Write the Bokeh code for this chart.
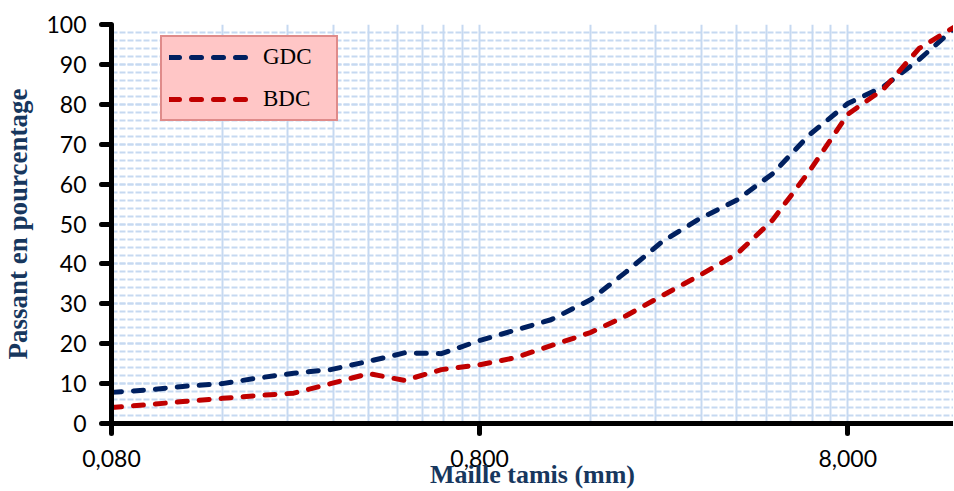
from bokeh.plotting import figure
from bokeh.models import (Range1d, FixedTicker, CustomJSTickFormatter, Legend, LegendItem)
from bokeh.embed import file_html
from bokeh.resources import INLINE

# ---- data ----
sieve_mm = [0.08, 0.1, 0.125, 0.16, 0.2, 0.25, 0.315, 0.4, 0.5, 0.63, 0.8, 1.0,
            1.25, 1.6, 2.0, 2.5, 3.15, 4.0, 5.0, 6.3, 8.0, 10.0, 12.5, 16.0]
gdc = [7.8, 8.4, 9.3, 10.0, 11.4, 12.6, 13.5, 15.6, 17.7, 17.5, 20.8, 23.4,
       26.0, 31.0, 38.0, 45.5, 51.2, 56.0, 62.6, 72.4, 80.2, 84.4, 91.2, 100.0]
bdc = [4.0, 4.7, 5.5, 6.3, 7.0, 7.6, 10.0, 12.5, 10.8, 13.5, 14.7, 16.5,
       19.5, 22.8, 27.0, 32.0, 37.0, 42.5, 51.0, 63.3, 77.5, 83.8, 94.0, 100.0]
x_major = [0.08, 0.8, 8.0]
y_major = [0, 10, 20, 30, 40, 50, 60, 70, 80, 90, 100]
series_names = ["GDC", "BDC"]
x_title = "Maille tamis (mm)"
y_title = "Passant en pourcentage"

NAVY = "#002060"
RED = "#C00000"
TITLE_COL = "#17375E"
GRID_COL = "#C6D9F1"

p = figure(width=953, height=491, x_axis_type="log",
           x_range=Range1d(0.08, 15.5), y_range=Range1d(0, 100),
           output_backend="svg", toolbar_location=None,
           min_border_left=109, min_border_right=0, min_border_top=24,
           min_border_bottom=67)
p.outline_line_color = None
p.background_fill_color = "white"

# x axis ticks
x_minor = [m * k for m in x_major for k in range(2, 10)]
p.xaxis.ticker = FixedTicker(ticks=x_major, minor_ticks=x_minor)
p.xaxis.formatter = CustomJSTickFormatter(code="return tick.toFixed(3).replace('.', ',');")
y_minor = [v for v in range(0, 101, 2)]
p.yaxis.ticker = FixedTicker(ticks=y_major, minor_ticks=y_minor)

for ax in (p.xaxis[0], p.yaxis[0]):
    ax.axis_line_color = "black"
    ax.axis_line_width = 5
    ax.major_tick_line_color = "black"
    ax.major_tick_line_width = 5
    ax.major_tick_line_cap = "round"
    ax.major_tick_out = 10
    ax.major_tick_in = 0
    ax.minor_tick_line_color = None
    ax.major_label_text_font = "Lato"
    ax.major_label_text_font_size = "23px"
    ax.major_label_text_color = "black"
    ax.axis_label_text_font = "Liberation Serif"
    ax.axis_label_text_font_style = "bold"
    ax.axis_label_text_color = TITLE_COL

p.xaxis.axis_label = x_title
p.yaxis.axis_label = y_title
p.xaxis.axis_label_text_font_size = "26px"
p.yaxis.axis_label_text_font_size = "27px"
p.xaxis.major_label_standoff = 16
p.xaxis.axis_label_standoff = -10
p.yaxis.major_label_standoff = 15
p.yaxis.axis_label_standoff = 10

# grids
p.xgrid.grid_line_color = GRID_COL
p.xgrid.grid_line_width = 2
p.xgrid.minor_grid_line_color = GRID_COL
p.xgrid.minor_grid_line_width = 2
p.ygrid.grid_line_color = GRID_COL
p.ygrid.grid_line_width = 2
p.ygrid.grid_line_dash = "6 2"
p.ygrid.minor_grid_line_color = GRID_COL
p.ygrid.minor_grid_line_width = 2
p.ygrid.minor_grid_line_dash = "6 2"

r1 = p.line(sieve_mm, gdc, line_color=NAVY, line_width=5, line_dash="10 12",
            line_cap="round", line_join="round")
r2 = p.line(sieve_mm, bdc, line_color=RED, line_width=5, line_dash="10 12",
            line_cap="round", line_join="round")

legend = Legend(items=[LegendItem(label=series_names[0], renderers=[r1]),
                       LegendItem(label=series_names[1], renderers=[r2])],
                location=(49, 302))
legend.background_fill_color = "#FFC6C6"
legend.background_fill_alpha = 1.0
legend.border_line_color = "#C0504D"
legend.border_line_width = 2
legend.label_text_font = "Liberation Serif"
legend.label_text_font_size = "23px"
legend.label_text_color = "black"
legend.padding = 7
legend.margin = 0
legend.spacing = 16
legend.glyph_width = 80
legend.glyph_height = 22
legend.label_height = 22
legend.label_width = 66
legend.label_standoff = 14
p.add_layout(legend)

open("out.html", "w").write(file_html(p, INLINE))
